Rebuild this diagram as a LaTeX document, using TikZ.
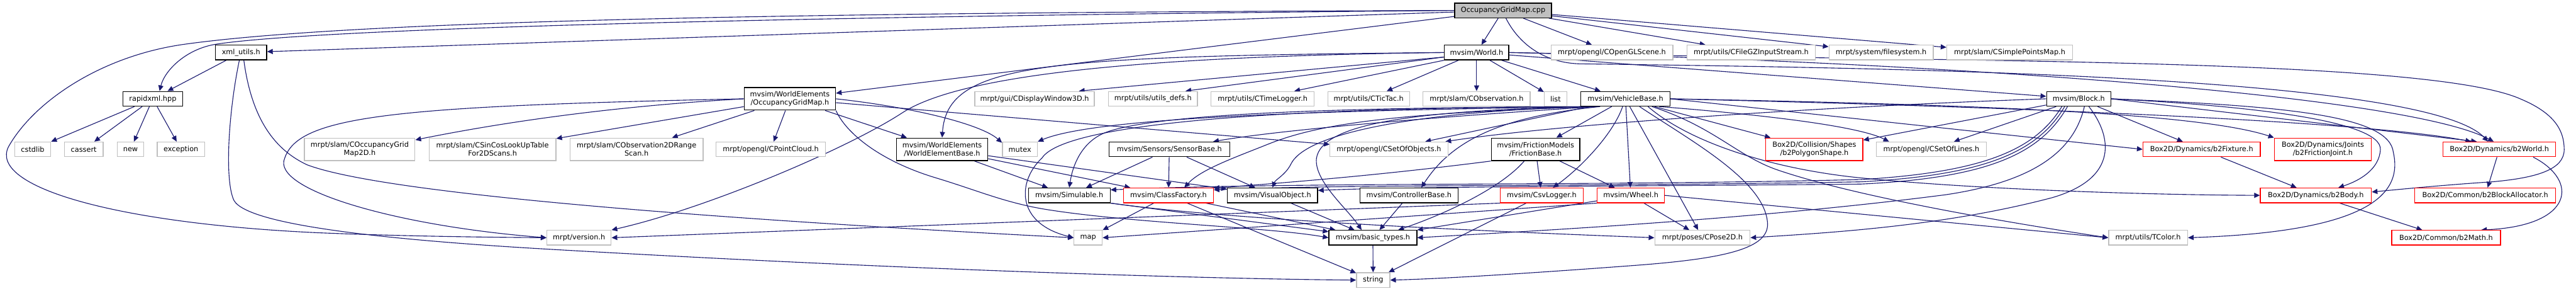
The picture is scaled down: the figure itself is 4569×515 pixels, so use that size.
\documentclass[tikz,border=0pt]{standalone}
\usepackage{fontspec}
\setmainfont{DejaVu Sans}
\usetikzlibrary{arrows.meta}
\definecolor{edgecol}{HTML}{191970}
\definecolor{gborder}{HTML}{BFBFBF}
\definecolor{rborder}{HTML}{FF0000}
\definecolor{cppfill}{HTML}{BFBFBF}
\pgfdeclarelayer{bg}
\pgfsetlayers{bg,main}
\begin{document}
\begin{tikzpicture}[x=1pt,y=-1pt,
  nd/.style={draw, fill=white, line width=1.5pt, inner sep=0pt, minimum height=26pt,
    font=\fontsize{12.6}{14.5}\selectfont, align=center},
  bnd/.style={nd, draw=black},
  gnd/.style={nd, draw=gborder},
  rnd/.style={nd, draw=rborder},
  cppnd/.style={nd, draw=black, fill=cppfill},
  two/.style={minimum height=40pt},
  edge/.style={draw=edgecol, line width=1.25pt, -{Triangle[length=10pt,width=9pt]}}
]
\useasboundingbox (0,0) rectangle (4569,515);

% ---- row 0
\node[cppnd, minimum width=172pt] (cpp) at (2666,18.5) {OccupancyGridMap.cpp};
% ---- row 1
\node[bnd, minimum width=91pt]  (xml)      at (427.5,93) {xml\_utils.h};
\node[bnd, minimum width=114pt] (world)    at (2619,93) {mvsim/World.h};
\node[gnd, minimum width=216pt] (oglscene) at (2859,93) {mrpt/opengl/COpenGLScene.h};
\node[gnd, minimum width=228pt] (gzin)     at (3106,93) {mrpt/utils/CFileGZInputStream.h};
\node[gnd, minimum width=185pt] (fs)       at (3336.5,93) {mrpt/system/filesystem.h};
\node[gnd, minimum width=223pt] (spm)      at (3564.5,93) {mrpt/slam/CSimplePointsMap.h};
% ---- row 2
\node[bnd, minimum width=106pt] (rapid)  at (271,175) {rapidxml.hpp};
\node[bnd, two, minimum width=162pt] (ogm) at (1401,175) {mvsim/WorldElements\\/OccupancyGridMap.h};
\node[gnd, minimum width=212pt] (disp)   at (1835,175) {mrpt/gui/CDisplayWindow3D.h};
\node[gnd, minimum width=158pt] (udefs)  at (2045,175) {mrpt/utils/utils\_defs.h};
\node[gnd, minimum width=183pt] (tlog)   at (2239.5,175) {mrpt/utils/CTimeLogger.h};
\node[gnd, minimum width=145pt] (tictac) at (2427.5,175) {mrpt/utils/CTicTac.h};
\node[gnd, minimum width=190pt] (cobs)   at (2619,175) {mrpt/slam/CObservation.h};
\node[gnd, minimum width=40pt]  (nlist)  at (2759,175) {list};
\node[bnd, minimum width=158pt] (veh)    at (2883,175) {mvsim/VehicleBase.h};
\node[bnd, minimum width=114pt] (block)  at (3687,175) {mvsim/Block.h};
% ---- row 3
\node[gnd, minimum width=64pt] (cstdlib)   at (58,264.5) {cstdlib};
\node[gnd, minimum width=69pt] (cassert)   at (148.5,264.5) {cassert};
\node[gnd, minimum width=47pt] (nnew)      at (231.5,264.5) {new};
\node[gnd, minimum width=84pt] (exception) at (321,264.5) {exception};
\node[gnd, two, minimum width=196pt] (cogm)   at (638,264.5) {mrpt/slam/COccupancyGrid\\Map2D.h};
\node[gnd, two, minimum width=225pt] (sincos) at (873.5,264.5) {mrpt/slam/CSinCosLookUpTable\\For2DScans.h};
\node[gnd, two, minimum width=236pt] (scan)   at (1129,264.5) {mrpt/slam/CObservation2DRange\\Scan.h};
\node[gnd, minimum width=194pt] (pcloud)      at (1367,264.5) {mrpt/opengl/CPointCloud.h};
\node[bnd, two, minimum width=162pt] (web)    at (1671,264.5) {mvsim/WorldElements\\/WorldElementBase.h};
\node[gnd, minimum width=62pt]  (mutex)       at (1809,264.5) {mutex};
\node[bnd, minimum width=214pt] (sensor)      at (2074,264.5) {mvsim/Sensors/SensorBase.h};
\node[gnd, minimum width=209pt] (csetobj)     at (2463.5,264.5) {mrpt/opengl/CSetOfObjects.h};
\node[bnd, two, minimum width=157pt] (fric)   at (2723.5,264.5) {mvsim/FrictionModels\\/FrictionBase.h};
\node[rnd, two, minimum width=172pt] (poly)   at (3218,264.5) {Box2D/Collision/Shapes\\/b2PolygonShape.h};
\node[gnd, minimum width=195pt] (csetlines)   at (3425.5,264.5) {mrpt/opengl/CSetOfLines.h};
\node[rnd, minimum width=208pt] (fixture)     at (3905,264.5) {Box2D/Dynamics/b2Fixture.h};
\node[rnd, two, minimum width=172pt] (fjoint) at (4120,264.5) {Box2D/Dynamics/Joints\\/b2FrictionJoint.h};
\node[rnd, minimum width=200pt] (b2world)     at (4433,264.5) {Box2D/Dynamics/b2World.h};
% ---- row 4
\node[bnd, minimum width=145pt] (simul)   at (1896.5,346) {mvsim/Simulable.h};
\node[rnd, minimum width=159pt] (cfact)   at (2072.5,346) {mvsim/ClassFactory.h};
\node[bnd, minimum width=160pt] (vobj)    at (2257,346) {mvsim/VisualObject.h};
\node[bnd, minimum width=174pt] (ctrl)    at (2499,346) {mvsim/ControllerBase.h};
\node[rnd, minimum width=147pt] (csv)     at (2734.5,346) {mvsim/CsvLogger.h};
\node[rnd, minimum width=119pt] (wheel)   at (2892.5,346) {mvsim/Wheel.h};
\node[rnd, minimum width=197pt] (b2body)  at (4107.5,346) {Box2D/Dynamics/b2Body.h};
\node[rnd, minimum width=250pt] (b2alloc) at (4408,346) {Box2D/Common/b2BlockAllocator.h};
% ---- row 5
\node[gnd, minimum width=114pt] (version) at (1027,421) {mrpt/version.h};
\node[gnd, minimum width=50pt]  (nmap)    at (1930,421) {map};
\node[bnd, minimum width=156pt] (btypes)  at (2435,421) {mvsim/basic\_types.h};
\node[gnd, minimum width=169pt] (pose)    at (3019.5,421) {mrpt/poses/CPose2D.h};
\node[gnd, minimum width=140pt] (tcolor)  at (3810,421) {mrpt/utils/TColor.h};
\node[rnd, minimum width=193pt] (b2math)  at (4338.5,421) {Box2D/Common/b2Math.h};
% ---- row 6
\node[gnd, minimum width=59pt] (nstring) at (2435.5,496) {string};

\begin{pgfonlayer}{bg}
% cpp
\draw[edge] (cpp) -- (world);
\draw[edge] (cpp) -- (oglscene);
\draw[edge] (cpp) -- (gzin);
\draw[edge] (cpp) -- (fs);
\draw[edge] (cpp) -- (spm);
\draw[edge] (cpp) -- (xml);
\draw[edge] (cpp) -- (ogm);
\draw[edge] (cpp.west) .. controls (1300,30) and (560,52) .. (385,78) .. controls (330,86) and (292,125) .. ([xshift=12pt]rapid.north);
\draw[edge] (cpp.west) .. controls (1500,22) and (650,34) .. (330,78) .. controls (180,98) and (60,180) .. (15,260) .. controls (-20,330) and (200,395) .. (560,412) .. controls (700,418) and (850,420) .. (version.west);
\draw[edge] ([xshift=5pt]cpp.south) .. controls (2690,70) and (2730,110) .. (2800,113) .. controls (3300,120) and (4300,130) .. ([xshift=-20pt]b2world.north);
% xml
\draw[edge] (xml) -- (rapid);
\draw[edge] ([xshift=-3pt]xml.south) .. controls (405,200) and (398,320) .. (415,355) .. controls (440,400) and (700,425) .. (950,440) .. controls (1600,478) and (2150,494) .. (nstring.west);
\draw[edge] ([xshift=5pt]xml.south) .. controls (445,200) and (480,262) .. (545,292) .. controls (700,350) and (1400,395) .. (nmap.west);
% rapid
\draw[edge] (rapid) -- (cstdlib);
\draw[edge] (rapid) -- (cassert);
\draw[edge] (rapid) -- (nnew);
\draw[edge] (rapid) -- (exception);
% ogm
\draw[edge] (ogm.west) .. controls (1050,190) and (850,225) .. ([yshift=-4pt]cogm.north east);
\draw[edge] (ogm) -- (sincos);
\draw[edge] (ogm) -- (scan);
\draw[edge] (ogm) -- (pcloud);
\draw[edge] (ogm) -- (web);
\draw[edge] (ogm.east) .. controls (1620,190) and (1740,220) .. ([yshift=-2pt]mutex.north west);
\draw[edge] (ogm) -- (csetobj);
\draw[edge] (ogm.west) .. controls (700,188) and (530,205) .. (505,280) .. controls (480,335) and (700,400) .. (version.west);
\draw[edge] (ogm.south east) .. controls (1500,235) and (1560,285) .. (1660,315) .. controls (1730,336) and (1780,358) .. (1850,370) .. controls (2000,395) and (2250,402) .. (btypes.west);
% world
\draw[edge] (world.west) .. controls (1850,100) and (1680,110) .. (web.north);
\draw[edge] (world.west) .. controls (2000,100) and (1700,135) .. (1600,200) .. controls (1500,265) and (1250,370) .. (version.north east);
\draw[edge] ([yshift=-8pt]world.west) -- ([xshift=-28pt]disp.north east);
\draw[edge] ([yshift=-8pt]world.west) -- ([xshift=-22pt]udefs.north east);
\draw[edge] (world.south west) -- ([xshift=-36pt]tlog.north east);
\draw[edge] (world) -- (tictac);
\draw[edge] (world) -- (cobs);
\draw[edge] (world) -- (nlist);
\draw[edge] (world) -- (veh);
\draw[edge] (world) -- (block);
\draw[edge] (world.east) .. controls (3300,105) and (4250,160) .. ([xshift=-10pt]b2world.north);
\draw[edge] (world.east) .. controls (3400,110) and (4300,100) .. (4470,175) .. controls (4530,200) and (4548,230) .. (4548,265) .. controls (4548,300) and (4500,315) .. (4420,322) .. controls (4330,328) and (4260,335) .. ([yshift=6pt]b2body.east);
% vehicle base
\draw[edge] (veh) -- (fric);
\draw[edge] ([xshift=-5pt]veh.south) .. controls (2860,240) and (2800,300) .. ([xshift=20pt]csv.north);
\draw[edge] (veh) -- (wheel);
\draw[edge] (veh) -- (pose);
\draw[edge] ([xshift=25pt]veh.south) .. controls (3000,250) and (3130,320) .. (3135,395) .. controls (3138,440) and (3060,458) .. (2900,470) .. controls (2700,485) and (2550,494) .. (nstring.east);
\draw[edge] (veh) -- (poly);
\draw[edge] ([xshift=60pt]veh.south) .. controls (3150,205) and (3300,225) .. ([xshift=-75pt]csetlines.north);
\draw[edge] (veh.east) -- (fixture.west);
\draw[edge] (veh.east) .. controls (3500,185) and (3900,200) .. (fjoint.north west);
\draw[edge] (veh.east) .. controls (3600,190) and (4200,215) .. ([xshift=-50pt]b2world.north);
\draw[edge] ([xshift=40pt]veh.south) .. controls (3000,255) and (3150,300) .. (3300,315) .. controls (3500,335) and (3800,345) .. (b2body.west);
\draw[edge] (veh) -- (csetobj);
\draw[edge] ([xshift=-45pt]veh.south) .. controls (2680,205) and (2580,240) .. ([xshift=22pt]ctrl.north);
\draw[edge] ([xshift=-50pt]veh.south) .. controls (2400,190) and (2050,200) .. (1960,235) .. controls (1920,251) and (1903,290) .. (simul.north);
\draw[edge] ([xshift=-50pt]veh.south) .. controls (2500,200) and (2350,215) .. (2250,255) .. controls (2190,279) and (2130,300) .. ([xshift=28pt]cfact.north);
\draw[edge] ([xshift=-50pt]veh.south) .. controls (2550,195) and (2320,230) .. (2290,290) .. controls (2280,310) and (2262,318) .. (vobj.north);
\draw[edge] ([xshift=-50pt]veh.south) .. controls (2500,210) and (2260,232) .. ([xshift=-30pt]sensor.north east);
\draw[edge] ([xshift=-50pt]veh.south) .. controls (2400,195) and (1950,205) .. (mutex.north east);
\draw[edge] ([xshift=-50pt]veh.south) .. controls (2300,190) and (1890,215) .. (1848,280) .. controls (1805,320) and (1800,395) .. (nmap.west);
\draw[edge] ([xshift=-50pt]veh.south) .. controls (2500,195) and (2345,220) .. (2335,280) .. controls (2330,320) and (2390,370) .. ([xshift=-20pt]btypes.north);
\draw[edge] ([xshift=47pt]veh.south) .. controls (3040,225) and (3080,275) .. (3150,300) .. controls (3300,352) and (3600,400) .. (tcolor.west);
% block
\draw[edge] (block.west) .. controls (3200,190) and (2750,222) .. ([xshift=-5pt]csetobj.north east);
\draw[edge] (block) -- (poly);
\draw[edge] (block) -- (csetlines);
\draw[edge] (block) -- (fixture);
\draw[edge] (block.east) -- ([xshift=-40pt]b2world.north);
\draw[edge] (block.east) .. controls (4000,188) and (4225,215) .. (4222,265) .. controls (4220,300) and (4185,320) .. ([xshift=40pt]b2body.north);
\draw[edge] ([xshift=-30pt]block.south) .. controls (3610,265) and (3520,305) .. (3300,318) .. controls (2800,330) and (2300,322) .. ([yshift=-4pt]simul.north east);
\draw[edge] ([xshift=-25pt]block.south) .. controls (3615,268) and (3525,310) .. (3300,322) .. controls (2800,331) and (2400,326) .. ([yshift=-4pt]cfact.north east);
\draw[edge] ([xshift=-20pt]block.south) .. controls (3620,271) and (3530,315) .. (3300,326) .. controls (2900,330) and (2500,330) .. ([yshift=-5pt]vobj.north east);
\draw[edge] ([xshift=10pt]block.south) .. controls (3680,260) and (3620,320) .. (3450,345) .. controls (3100,390) and (2700,410) .. (btypes.east);
\draw[edge] ([xshift=18pt]block.south) .. controls (3745,240) and (3760,315) .. (3640,350) .. controls (3450,400) and (3250,412) .. (pose.east);
\draw[edge] (block.east) .. controls (4060,188) and (4238,205) .. (4245,270) .. controls (4262,345) and (4200,410) .. (tcolor.east);
% sensor, world element base
\draw[edge] (sensor) -- (simul);
\draw[edge] (sensor) -- (cfact);
\draw[edge] (sensor) -- (vobj);
\draw[edge] (web) -- (simul);
\draw[edge] (web) -- (cfact);
\draw[edge] (web) -- (vobj);
% row 4 sources
\draw[edge] (simul.south east) -- ([yshift=-3pt]btypes.north west);
\draw[edge] (simul.south east) .. controls (2200,392) and (2700,412) .. (pose.west);
\draw[edge] (cfact) -- (nmap);
\draw[edge] (cfact) -- (nstring);
\draw[edge] (cfact) -- (btypes);
\draw[edge] (vobj) -- (btypes);
\draw[edge] (ctrl) -- (btypes);
\draw[edge] (fric) -- (csv);
\draw[edge] (fric) -- (wheel);
\draw[edge] ([xshift=-20pt]fric.south) .. controls (2660,335) and (2560,380) .. ([xshift=45pt]btypes.north);
\draw[edge] (fric.south west) .. controls (2450,310) and (2300,322) .. ([yshift=-1pt]cfact.north east);
\draw[edge] (csv) -- (nstring);
\draw[edge] (csv.south west) -- (version.east);
\draw[edge] (wheel.south west) -- (nmap.east);
\draw[edge] (wheel) -- (btypes.north east);
\draw[edge] (wheel) -- (pose);
\draw[edge] (wheel.east) -- (tcolor.west);
\draw[edge] (btypes) -- (nstring);
% Box2D
\draw[edge] (fixture) -- (b2body);
\draw[edge] (b2body) -- (b2math);
\draw[edge] (b2world) -- (b2alloc);
\draw[edge] ([xshift=60pt]b2world.south) .. controls (4575,320) and (4565,400) .. ([xshift=-35pt]b2math.north east);
\end{pgfonlayer}
\end{tikzpicture}
\end{document}
